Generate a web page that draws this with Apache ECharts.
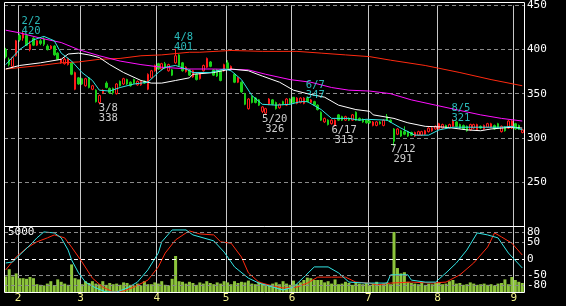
<!DOCTYPE html>
<html><head><meta charset="utf-8">
<script src="https://cdn.jsdelivr.net/npm/echarts@6/dist/echarts.min.js"></script>
<style>html,body{margin:0;padding:0;background:#000;}#c{width:566px;height:306px;}</style>
</head><body><div id="c"></div>
<script>
// trading days (month, days)
const tradingDays = [
  [1, [26,27,28,31]],
  [2, [1,2,3,4,7,8,9,10,14,15,16,17,18,21,22,24,25,28]],
  [3, [1,2,3,4,7,8,9,10,11,14,15,16,17,18,22,23,24,25,28,29,30,31]],
  [4, [1,4,5,6,7,8,11,12,13,14,15,18,19,20,21,22,25,26,27,28]],
  [5, [2,6,9,10,11,12,13,16,17,18,19,20,23,24,25,26,27,30,31]],
  [6, [1,2,3,6,7,8,9,10,13,14,15,16,17,20,21,22,23,24,27,28,29,30]],
  [7, [1,4,5,6,7,8,11,12,13,14,15,19,20,21,22,25,26,27,28,29]],
  [8, [1,2,3,4,5,8,9,10,12,15,16,17,18,19,22,23,24,25,26,29,30,31]],
  [9, [1,2,5]]
];
// [open, close, low, high]
const ohlc = [
[400,392,390,402],[389,383,381,391],[381,391,379,392],[393,410,392,411],[416,411,409,418],
[413,418,410,420],[416,405,404,418],[400,406,398,410],[413,405,404,414],[405,410,404,411],
[410,407,405,412],[412,406,404,414],[404,400,399,406],[401,404,400,405],[404,394,393,405],
[396,389,388,397],[385,389,384,390],[384,389,383,391],[383,390,382,391],[385,372,371,386],
[355,374,354,375],[368,361,360,369],[367,361,360,368],[359,367,358,368],[368,357,356,369],
[355,359,354,360],[354,341,340,355],[340,348,338,349],[351,354,350,355],[362,357,356,364],
[356,351,350,357],[356,351,349,357],[350,361,349,362],[364,359,358,365],[361,367,360,368],
[366,361,360,367],[363,359,358,364],[366,362,361,367],[360,364,359,365],[360,364,359,365],
[364,362,361,365],[355,372,354,373],[368,376,367,377],[376,382,375,383],[384,378,377,385],
[378,384,377,385],[384,379,378,386],[376,383,375,384],[377,371,370,378],[385,393,384,401],
[394,382,381,395],[385,376,375,386],[375,380,374,381],[377,371,370,378],[369,376,368,377],
[372,366,365,373],[367,373,366,374],[376,382,375,383],[380,390,379,391],[386,381,380,387],
[377,371,370,378],[377,370,369,378],[376,365,364,377],[376,383,375,384],[385,378,377,388],
[377,381,376,382],[372,363,362,373],[363,368,362,369],[363,352,351,364],[350,338,337,351],
[333,344,332,345],[347,340,339,348],[345,340,339,346],[343,337,336,344],[330,335,328,336],
[328,333,326,334],[338,344,337,345],[343,338,337,344],[340,333,332,341],[334,338,333,339],
[341,338,337,342],[337,344,336,345],[344,339,338,345],[346,340,339,346],[339,345,338,346],
[340,345,339,346],[339,345,338,346],[345,341,340,347],[340,343,339,344],[341,337,336,342],
[337,332,331,338],[329,320,319,330],[318,322,317,323],[320,315,314,321],[316,320,315,321],
[314,320,313,321],[326,320,319,327],[324,320,319,325],[320,324,319,325],[322,320,319,323],
[320,326,319,327],[329,320,319,330],[322,320,319,323],[321,318,317,322],[320,317,316,321],
[319,317,316,320],[314,318,313,319],[314,318,313,319],[318,316,315,319],[314,320,313,321],
[324,320,319,327],[320,318,317,321],[310,296,291,311],[304,310,303,311],[308,302,301,309],
[307,304,303,313],[307,302,301,308],[306,303,302,307],[302,306,301,307],[303,307,302,308],
[303,307,302,308],[304,308,303,309],[307,311,306,312],[308,311,307,312],[310,313,309,314],
[310,316,309,317],[311,315,310,316],[314,311,310,315],[311,315,310,316],[313,319,312,321],
[318,313,312,319],[315,311,310,316],[314,310,309,315],[313,308,307,314],[309,315,308,316],
[311,315,310,316],[309,315,308,316],[313,311,310,314],[310,314,309,315],[312,316,311,317],
[312,316,311,317],[314,310,309,315],[316,312,311,317],[307,313,306,314],[312,308,307,313],
[311,319,310,320],[311,319,310,320],[316,310,309,317],[314,310,309,315],[306,309,305,310]
];
const volume = [
1300,1900,1300,1550,1150,1150,1100,1250,1150,650,600,550,700,900,550,1050,850,700,600,2300,1150,1050,
650,900,750,900,700,650,900,600,750,650,700,600,800,750,600,550,700,550,900,650,650,800,
700,900,600,550,1100,3000,900,850,700,850,750,600,800,700,900,750,650,800,700,900,
800,650,900,750,850,800,950,700,650,850,700,650,600,700,800,650,900,700,600,
950,650,800,1000,1200,1150,1000,1000,1000,800,900,700,1050,650,700,850,750,600,800,700,650,750,
600,700,850,600,700,800,650,5000,2000,1550,1650,850,750,700,650,800,600,700,650,750,
800,650,700,900,1000,700,750,600,650,800,700,600,650,700,600,650,550,700,750,1050,650,1250,1000,850,750
];
// moving averages: [dayIndex, price]
const maShort = [[0,383],[4,400],[8,411],[11,415],[14,410],[16,396],[19,387],[22,374],[25,365],[27,354],[30,353],[33,357],[37,361],[41,363],[44,374],[46,380],[49,382],[52,378],[54,374],[59,374],[63,378],[65,376],[68,366],[71,348],[74,338],[78,337],[82,338],[85,341],[87,341],[91,332],[94,322],[99,322],[102,320],[104,321],[110,320],[114,311],[118,303],[122,303],[125,309],[129,312],[136,312],[143,312],[146,313],[149,309]];
const maMid = [[0,378],[4,382],[10,385],[16,389],[18,395],[21,396],[24,394],[27,391],[30,383],[34,374],[39,365],[42,362],[45,362],[49,365],[53,368],[54,372],[60,374],[65,378],[70,376],[74,370],[79,363],[83,354],[87,350],[92,346],[96,337],[101,332],[105,330],[106,326],[112,322],[116,317],[121,313],[127,312],[133,309],[137,308],[140,310],[146,312],[149,311]];
const maLong = [[0,422],[4,419],[10,413],[16,408],[21,400],[27,393],[33,387],[39,383],[45,380],[53,378],[60,378],[70,377],[75,372],[82,366],[88,363],[94,357],[99,354],[105,353],[111,350],[117,343],[124,337],[131,331],[137,326],[143,322],[149,319]];
const maVeryLong = [[0,378],[10,382],[16,385],[21,386],[27,389],[33,390],[39,393],[45,394],[53,397],[56,397],[65,399],[74,398],[84,398],[91,396],[98,394],[105,392],[111,388],[121,382],[131,374],[140,366],[149,359]];
// oscillators (panel below)
const oscFast = [[0,-12],[2,-9],[4,12],[7,42],[9,64],[11,82],[14,79],[16,64],[18,27],[19,-3],[21,-42],[23,-70],[26,-88],[29,-100],[32,-100],[35,-88],[38,-70],[41,-33],[44,18],[45,52],[48,88],[52,88],[54,73],[60,55],[63,21],[66,-24],[70,-58],[73,-73],[77,-85],[80,-94],[83,-85],[86,-55],[89,-24],[93,-24],[96,-42],[99,-70],[104,-73],[107,-73],[110,-73],[111,-48],[116,-48],[117,-64],[121,-70],[124,-70],[127,-42],[130,-12],[133,27],[136,79],[139,73],[142,64],[145,18],[149,-27]];
const oscSlow = [[0,-33],[3,6],[6,33],[9,52],[12,64],[14,73],[17,64],[19,36],[22,-9],[25,-58],[28,-85],[31,-100],[34,-97],[37,-85],[41,-64],[44,-24],[46,18],[49,58],[52,79],[53,85],[56,76],[60,73],[62,52],[65,48],[68,6],[70,-42],[73,-70],[76,-79],[80,-88],[84,-85],[87,-73],[90,-55],[94,-55],[98,-55],[101,-70],[105,-73],[107,-79],[111,-73],[117,-70],[123,-73],[127,-70],[131,-48],[135,-12],[139,36],[141,79],[143,67],[146,48],[149,12]];
const highs = [['2/2',420],['4/8',401],['6/7',347],['8/5',321]];
const lows = [['3/8',338],['5/20',326],['6/17',313],['7/12',291]];
const priceTicks = [250,300,350,400,450];
const oscTicks = [80,50,0,-50,-80];

const cats = [];
const monthStarts = {};
tradingDays.forEach(([m, ds]) => ds.forEach((d, j) => {
  if (j === 0 && m > 1) monthStarts[cats.length] = String(m);
  cats.push(m + '/' + d);
}));
const isMonthStart = (i) => monthStarts[i] !== undefined;

const FONT = 'DejaVu Sans Mono';
const annot = [];
highs.forEach(([d, p]) => annot.push({value: [cats.indexOf(d), p],
  label: {formatter: d + '\n' + p, color: '#33e6e6', offset: [8, -6]}}));
lows.forEach(([d, p]) => annot.push({value: [cats.indexOf(d), p],
  label: {formatter: d + '\n' + p, color: '#ffffff', offset: [9, 9]}}));

const chart = echarts.init(document.getElementById('c'), null, {renderer: 'canvas'});
const xBase = (gi) => ({
  type: 'category', gridIndex: gi, data: cats, boundaryGap: true,
  axisLine: {show: false}, axisTick: {show: false},
  splitLine: {show: true, interval: (i) => isMonthStart(i), lineStyle: {color: '#c8c8c8', width: 1}}
});
const dash = {color: '#8a8a8a', width: 1, type: [4, 3]};
chart.setOption({
  animation: false,
  backgroundColor: '#000',
  grid: [
    {left: 4, right: 42, top: 2, height: 224},
    {left: 4, right: 42, top: 226, height: 66}
  ],
  xAxis: [
    Object.assign(xBase(0), {axisLabel: {show: false}}),
    Object.assign(xBase(1), {axisLabel: {show: true, interval: (i) => isMonthStart(i),
      formatter: (v, i) => monthStarts[i] || '', color: '#f2f28a', fontFamily: FONT, fontSize: 11,
      margin: 1, padding: [0, 3, 0, 0]}})
  ],
  yAxis: [
    {type: 'value', gridIndex: 0, min: 200, max: 450, interval: 50, position: 'right',
     axisLine: {show: false}, axisTick: {show: false},
     axisLabel: {color: '#fff', fontFamily: FONT, fontSize: 11, margin: 3, padding: [4, 0, 0, 0],
       formatter: (v) => priceTicks.includes(v) ? String(v) : ''},
     splitLine: {show: true, lineStyle: dash}},
    {type: 'value', gridIndex: 1, min: -100, max: 100, interval: 10, position: 'right',
     axisLine: {show: false}, axisTick: {show: false},
     axisLabel: {color: '#fff', fontFamily: FONT, fontSize: 11, margin: 3, padding: [2, 0, 0, 0],
       formatter: (v) => oscTicks.includes(v) ? String(v) : ''},
     splitLine: {show: false}},
    {type: 'value', gridIndex: 1, min: 0, max: 5500, interval: 5000, position: 'left',
     axisLine: {show: false}, axisTick: {show: false}, splitLine: {show: false},
     axisLabel: {inside: true, color: '#fff', fontFamily: FONT, fontSize: 11, margin: 4,
       formatter: (v) => v === 5000 ? '5000' : ''}}
  ],
  series: [
    {type: 'bar', xAxisIndex: 1, yAxisIndex: 2, data: volume, barWidth: 3,
     itemStyle: {color: '#8cc43c'}, silent: true, z: 1},
    {type: 'candlestick', xAxisIndex: 0, yAxisIndex: 0, barWidth: 2, silent: true,
     data: ohlc.map(r => [r[0], r[1], r[2], r[3]]),
     itemStyle: {color: '#000', color0: '#18d018', borderColor: '#ff1a1a', borderColor0: '#18d018', borderWidth: 1}},
    {type: 'line', xAxisIndex: 0, yAxisIndex: 0, data: maVeryLong, symbol: 'none', silent: true,
     lineStyle: {color: '#ff2a10', width: 1}},
    {type: 'line', xAxisIndex: 0, yAxisIndex: 0, data: maLong, symbol: 'none', silent: true,
     lineStyle: {color: '#ff10ff', width: 1}},
    {type: 'line', xAxisIndex: 0, yAxisIndex: 0, data: maMid, symbol: 'none', silent: true,
     lineStyle: {color: '#ffffff', width: 1}},
    {type: 'line', xAxisIndex: 0, yAxisIndex: 0, data: maShort, symbol: 'none', silent: true,
     lineStyle: {color: '#33e6e6', width: 1}},
    {type: 'line', xAxisIndex: 1, yAxisIndex: 1, data: oscSlow, symbol: 'none', silent: true,
     lineStyle: {color: '#ff2a10', width: 1},
     markLine: {silent: true, symbol: 'none', label: {show: false},
       data: oscTicks.map(v => ({yAxis: v, lineStyle: v === 0 ? {color: '#ffffff', width: 1, type: [4, 3]} : dash}))}},
    {type: 'line', xAxisIndex: 1, yAxisIndex: 1, data: oscFast, symbol: 'none', silent: true,
     lineStyle: {color: '#33e6e6', width: 1}},
    {type: 'scatter', xAxisIndex: 0, yAxisIndex: 0, data: annot, symbolSize: 1, silent: true,
     itemStyle: {color: 'rgba(0,0,0,0)'},
     label: {show: true, position: 'inside', align: 'center', verticalAlign: 'middle',
       fontFamily: FONT, fontSize: 10.5, lineHeight: 10}, z: 10}
  ],
  graphic: [
    {type: 'rect', z: 100, silent: true, shape: {x: 4.5, y: 2.5, width: 520, height: 290},
     style: {fill: null, stroke: '#ffffff', lineWidth: 1}},
    {type: 'line', z: 100, silent: true, shape: {x1: 4.5, y1: 226.5, x2: 524.5, y2: 226.5},
     style: {stroke: '#ffffff', lineWidth: 1}}
  ]
});
</script></body></html>
